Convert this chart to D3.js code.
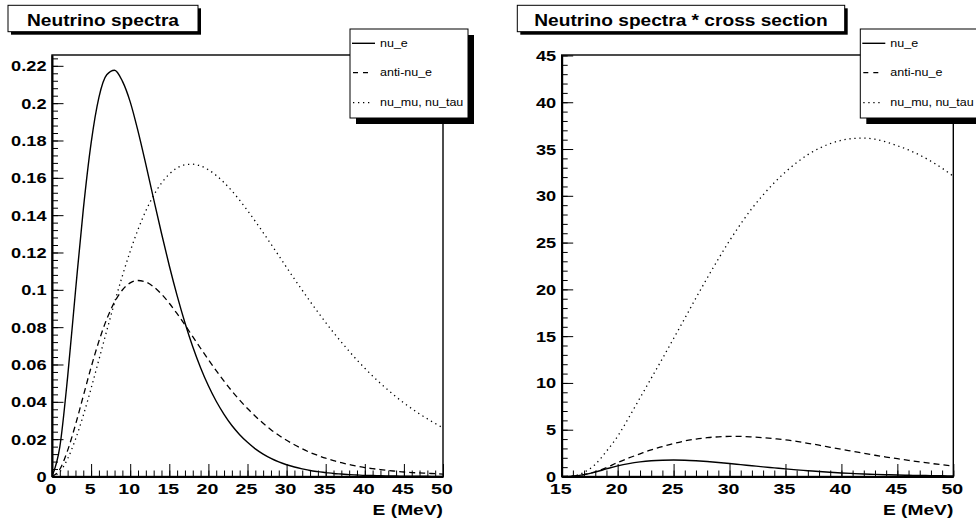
<!DOCTYPE html>
<html>
<head>
<meta charset="utf-8">
<script src="https://d3js.org/d3.v7.min.js"></script>
<style>
body { margin: 0; background: #fff; }
svg { display: block; }
text { font-family: "Liberation Sans", Arial, Helvetica, sans-serif; fill: #000; }
</style>
</head>
<body>
<div id="chart"></div>
<script>
// ---- data ----
const seriesNames = ["nu_e", "anti-nu_e", "nu_mu, nu_tau"];

// left pad: neutrino spectra, E = 0..50 MeV
const energyLeft = [0,1,2,3,4,5,6,7,8,9,10,11,12,13,14,15,16,17,18,19,20,21,22,23,24,25,
  26,27,28,29,30,31,32,33,34,35,36,37,38,39,40,41,42,43,44,45,46,47,48,49,50];
const nueSpectrum = [0,0.0159,0.0534,0.0991,0.1430,0.1786,0.2031,0.2152,0.2176,0.2118,0.2007,
  0.1850,0.1672,0.1486,0.1303,0.1129,0.0969,0.0824,0.0695,0.0583,0.0486,0.0403,0.0333,0.0273,
  0.0224,0.0183,0.0148,0.0120,0.0097,0.0078,0.0063,0.0051,0.0041,0.0032,0.0026,0.0021,0.0016,
  0.0013,0.0010,0.0008,0.0006,0.0005,0.0004,0.0003,0.00025,0.0002,0.00015,0.00012,0.0001,0.00008,0.00006];
const antiNueSpectrum = [0,0.0039,0.0140,0.0277,0.0431,0.0585,0.0725,0.0843,0.0935,0.0999,0.1037,
  0.1050,0.1042,0.1016,0.0977,0.0928,0.0872,0.0812,0.0749,0.0687,0.0626,0.0567,0.0511,0.0458,
  0.0409,0.0364,0.0323,0.0285,0.0251,0.0221,0.0194,0.0170,0.0148,0.0129,0.0113,0.0098,0.0085,
  0.0074,0.0064,0.0056,0.0048,0.0042,0.0037,0.0032,0.0028,0.0024,0.0021,0.0019,0.0017,0.0015,0.0013];
const numuSpectrum = [0,0.0025,0.0095,0.0199,0.0327,0.0472,0.0626,0.0781,0.0932,0.1075,0.1206,
  0.1323,0.1423,0.1506,0.1572,0.1620,0.1653,0.1670,0.1673,0.1664,0.1643,0.1613,0.1575,0.1530,
  0.1480,0.1425,0.1367,0.1307,0.1245,0.1183,0.1120,0.1058,0.0998,0.0938,0.0881,0.0825,0.0771,
  0.0720,0.0671,0.0624,0.0580,0.0538,0.0499,0.0462,0.0427,0.0394,0.0364,0.0335,0.0309,0.0284,0.0261];

// right pad: spectra * cross section, E = 15..50 MeV
const energyRight = [15,16,17,18,19,20,21,22,23,24,25,26,27,28,29,30,31,32,33,34,35,36,37,38,
  39,40,41,42,43,44,45,46,47,48,49,50];
const nueRate = [0,0.04,0.2,0.47,0.81,1.13,1.38,1.56,1.68,1.74,1.76,1.74,1.68,1.6,1.5,1.39,1.27,
  1.15,1.03,0.92,0.81,0.71,0.62,0.53,0.45,0.38,0.32,0.27,0.23,0.19,0.16,0.13,0.11,0.09,0.075,0.06];
const antiNueRate = [0,0.04,0.2,0.5,0.95,1.5,1.98,2.42,2.85,3.2,3.53,3.8,4.0,4.15,4.24,4.28,4.28,
  4.23,4.15,4.04,3.92,3.75,3.55,3.35,3.12,2.9,2.69,2.48,2.27,2.08,1.9,1.73,1.56,1.4,1.25,1.1];
const numuRate = [0,0.05,0.45,1.3,2.7,4.3,6.3,8.4,10.5,12.6,14.75,16.9,19.08,21.2,23.25,25.2,27.0,
  28.65,30.1,31.4,32.55,33.55,34.4,35.07,35.58,35.93,36.12,36.17,36.05,35.75,35.35,34.9,34.35,33.7,32.95,32.1];

// axis ticks
const xTicksLeft = [0,5,10,15,20,25,30,35,40,45,50];
const yTicksLeft = [0,0.02,0.04,0.06,0.08,0.1,0.12,0.14,0.16,0.18,0.2,0.22];
const xTicksRight = [15,20,25,30,35,40,45,50];
const yTicksRight = [0,5,10,15,20,25,30,35,40,45];

const lineStyles = [
  { dash: null, width: 1.4 },
  { dash: "6,4", width: 1.3 },
  { dash: "1.3,3.7", width: 1.3 }
];

const svg = d3.select("#chart").append("svg")
    .attr("width", 976)
    .attr("height", 521);

svg.append("rect").attr("width", 976).attr("height", 521).attr("fill", "#fff");

// text helper: the picture's fonts are wider than Helvetica, so stretch in x
function putText(g, x, y, str, size, sx, anchor, weight) {
    return g.append("text")
        .attr("transform", `translate(${x},${y}) scale(${sx},1)`)
        .attr("text-anchor", anchor)
        .attr("font-size", size)
        .attr("font-weight", weight)
        .text(str);
}

function titleBox(x, y, w, h, label) {
    svg.append("rect").attr("x", x + 3).attr("y", y + 3).attr("width", w).attr("height", h).attr("fill", "#000");
    svg.append("rect").attr("x", x).attr("y", y).attr("width", w).attr("height", h)
        .attr("fill", "#fff").attr("stroke", "#000").attr("stroke-width", 1);
    putText(svg, x + w / 2, y + 20.7, label, 16.5, 1.16, "middle", "bold");
}

function legendBox(x, y) {
    const w = 118, h = 89;
    svg.append("rect").attr("x", x + 6).attr("y", y + 6).attr("width", w).attr("height", h).attr("fill", "#000");
    svg.append("rect").attr("x", x).attr("y", y).attr("width", w).attr("height", h)
        .attr("fill", "#fff").attr("stroke", "#000").attr("stroke-width", 1);
    const rowY = [14.3, 43.7, 73.7];
    seriesNames.forEach((name, i) => {
        const ly = y + rowY[i];
        svg.append("line")
            .attr("x1", x + (i === 0 ? 2 : 3)).attr("x2", x + (i === 0 ? 25 : 23))
            .attr("y1", ly).attr("y2", ly)
            .attr("stroke", "#000")
            .attr("stroke-width", lineStyles[i].width)
            .attr("stroke-dasharray", i === 1 ? "5,5" : (i === 2 ? "1.3,3.7" : null));
        putText(svg, x + 30, ly + 3.6, name, 10.5, 1.19, "start", "normal");
    });
}

function drawPanel(p) {
    const x = d3.scaleLinear().domain(p.xDomain).range([p.left, p.right]);
    const y = d3.scaleLinear().domain(p.yDomain).range([p.bottom, p.top]);
    const g = svg.append("g");

    g.append("clipPath").attr("id", "clip-" + p.id)
        .append("rect")
        .attr("x", p.left).attr("y", p.top)
        .attr("width", p.right - p.left).attr("height", p.bottom - p.top);

    // frame
    g.append("rect")
        .attr("x", p.left).attr("y", p.top)
        .attr("width", p.right - p.left).attr("height", p.bottom - p.top)
        .attr("fill", "none").attr("stroke", "#000").attr("stroke-width", 1.4);

    const line = d3.line()
        .x((d, i) => x(p.energy[i]))
        .y(d => y(d))
        .curve(d3.curveMonotoneX);

    p.series.forEach((vals, i) => {
        g.append("path")
            .attr("clip-path", `url(#clip-${p.id})`)
            .attr("d", line(vals))
            .attr("fill", "none")
            .attr("stroke", "#000")
            .attr("stroke-width", lineStyles[i].width)
            .attr("stroke-dasharray", lineStyles[i].dash);
    });

    // minor ticks first, then the major axis on top
    const gxMinor = g.append("g").attr("transform", `translate(0,${p.bottom})`)
        .call(d3.axisBottom(x).tickValues(p.xMinor).tickSize(-6).tickFormat(""));
    gxMinor.select(".domain").remove();
    const gyMinor = g.append("g").attr("transform", `translate(${p.left},0)`)
        .call(d3.axisLeft(y).tickValues(p.yMinor).tickSize(-6).tickFormat(""));
    gyMinor.select(".domain").remove();

    const gx = g.append("g").attr("transform", `translate(0,${p.bottom})`)
        .call(d3.axisBottom(x).tickValues(p.xTicks).tickSizeInner(-12.5).tickSizeOuter(0)
            .tickFormat(d => String(d)));
    gx.attr("font-size", 14).attr("font-weight", "bold");
    gx.select(".domain").attr("stroke-width", 2);
    gx.selectAll(".tick text")
        .attr("y", null).attr("dy", null)
        .attr("transform", "translate(-1.5,17.8) scale(1.4,1)");

    const gy = g.append("g").attr("transform", `translate(${p.left},0)`)
        .call(d3.axisLeft(y).tickValues(p.yTicks).tickSizeInner(-11.5).tickSizeOuter(0)
            .tickFormat(d => String(d)));
    gy.attr("font-size", 14).attr("font-weight", "bold");
    gy.select(".domain").attr("stroke-width", 2);
    gy.selectAll(".tick text")
        .attr("x", null).attr("dy", null)
        .attr("transform", "translate(-5.5,5) scale(1.3,1)");

    // axis title
    putText(g, p.right, 515, "E (MeV)", 15.5, 1.24, "end", "bold");
}

drawPanel({
    id: "left",
    left: 52, right: 443, top: 55, bottom: 476.5,
    xDomain: [0, 50], yDomain: [0, 0.2258],
    xTicks: xTicksLeft, yTicks: yTicksLeft,
    xMinor: d3.range(0, 51, 1), yMinor: d3.range(0, 0.2241, 0.004),
    energy: energyLeft,
    series: [nueSpectrum, antiNueSpectrum, numuSpectrum]
});

drawPanel({
    id: "right",
    left: 561.7, right: 953.3, top: 55, bottom: 476.5,
    xDomain: [15, 50], yDomain: [0, 45.05],
    xTicks: xTicksRight, yTicks: yTicksRight,
    xMinor: d3.range(15, 51, 1), yMinor: d3.range(0, 45.01, 1),
    energy: energyRight,
    series: [nueRate, antiNueRate, numuRate]
});

titleBox(8, 5.3, 190, 26.4, "Neutrino spectra");
titleBox(517.3, 5.3, 327.4, 26.4, "Neutrino spectra * cross section");
legendBox(350, 29);
legendBox(860.3, 29);
</script>
</body>
</html>
